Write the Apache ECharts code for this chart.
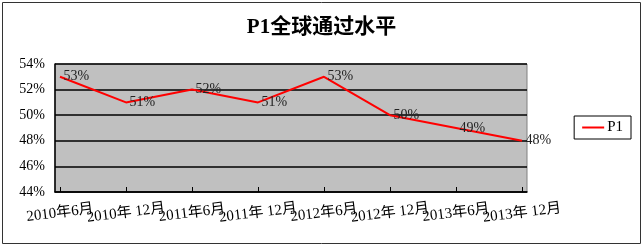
<!DOCTYPE html>
<html><head><meta charset="utf-8">
<script src="https://cdn.jsdelivr.net/npm/echarts@6/dist/echarts.min.js"></script>
<style>html,body{margin:0;padding:0;background:#fff}#c{width:643px;height:247px}</style>
</head><body><div id="c"></div>
<script>
const title = 'P1全球通过水平';
const seriesName = 'P1';
const categories = ['2010年6月','2010年 12月','2011年6月','2011年 12月','2012年6月','2012年 12月','2013年6月','2013年 12月'];
const values = [53, 51, 52, 51, 53, 50, 49, 48];
const yMin = 44, yMax = 54, yStep = 2;

const FONT = "'Liberation Serif', 'Noto Sans CJK SC', serif";
const chart = echarts.init(document.getElementById('c'), null, {renderer: 'canvas'});
chart.setOption({
  animation: false,
  backgroundColor: '#fff',
  title: {
    text: title, left: 'center', top: 12,
    textStyle: {fontFamily: "'Liberation Serif','Noto Sans CJK SC'", fontWeight: 'bold', fontSize: 21, color: '#000'}
  },
  legend: {
    data: [{name: seriesName, icon: 'rect', itemStyle: {color: '#FF0000'}}],
    right: 12, top: 116,
    itemWidth: 22, itemHeight: 2, itemGap: 4,
    borderColor: '#000', borderWidth: 1, padding: [4, 8, 4, 8],
    backgroundColor: '#fff',
    textStyle: {fontFamily: FONT, fontSize: 15, color: '#000', padding: [0,0,0,-2]}
  },
  graphic: [{
    type: 'rect', shape: {x: 2.5, y: 2.5, width: 638, height: 241},
    style: {fill: 'none', stroke: '#333', lineWidth: 1}, silent: true, z: -1
  }],
  grid: [
    {left: 55, right: 116, top: 64, bottom: 55, show: true, backgroundColor: '#C0C0C0', borderColor: '#808080', borderWidth: 1},
    {left: 60, right: 121, top: 64, bottom: 55}
  ],
  xAxis: [
    {gridIndex: 0, type: 'category', data: categories, boundaryGap: false,
     axisLine: {show: true, lineStyle: {color: '#000', width: 1.5}}, axisTick: {show: false}, axisLabel: {show: false}, splitLine: {show: false}},
    {gridIndex: 1, type: 'category', data: categories, boundaryGap: false,
     axisLine: {show: false},
     axisTick: {show: true, inside: true, length: 5, lineStyle: {color: '#000'}},
     axisLabel: {show: true, interval: 0, rotate: 7, align: 'center', margin: 21, fontFamily: FONT, fontSize: 15, color: '#000'},
     splitLine: {show: false}}
  ],
  yAxis: [
    {gridIndex: 0, type: 'value', min: yMin, max: yMax, interval: yStep,
     axisLine: {show: true, lineStyle: {color: '#000', width: 1.5}}, axisTick: {show: false},
     axisLabel: {formatter: '{value}%', fontFamily: FONT, fontSize: 14, color: '#000', margin: 10},
     splitLine: {show: true, lineStyle: {color: '#000', width: 1.5}}},
    {gridIndex: 1, type: 'value', min: yMin, max: yMax, interval: yStep, show: false}
  ],
  series: [{
    name: seriesName, type: 'line', xAxisIndex: 1, yAxisIndex: 1,
    data: values, showSymbol: true, symbol: 'circle', symbolSize: 1,
    lineStyle: {color: '#FF0000', width: 2}, itemStyle: {color: 'rgba(255,0,0,0)'},
    label: {show: true, position: 'right', distance: 3, offset: [0, 0], formatter: '{c}%', fontFamily: FONT, fontSize: 14, color: '#222'}
  }]
});
</script></body></html>
